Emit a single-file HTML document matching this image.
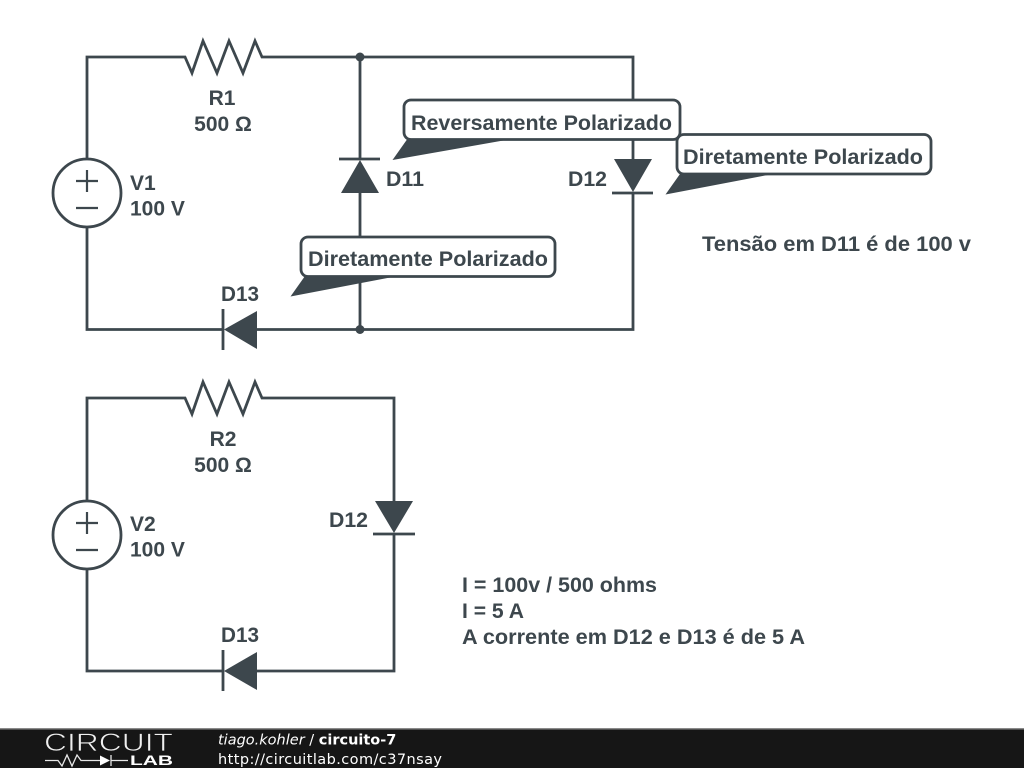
<!DOCTYPE html>
<html>
<head>
<meta charset="utf-8">
<style>
html,body{margin:0;padding:0;background:#fff;width:1024px;height:768px;overflow:hidden}
svg{display:block;filter:blur(.35px)}
text{font-family:"Liberation Sans",Arial,sans-serif;font-weight:bold;font-size:21px;fill:#3d474d}
.f{font-family:"DejaVu Sans",sans-serif;font-size:14.5px;font-weight:normal;fill:#fff}
</style>
</head>
<body>
<svg width="1024" height="768" viewBox="0 0 1024 768" xmlns="http://www.w3.org/2000/svg">
<rect width="1024" height="768" fill="#fff"/>

<g fill="none" stroke="#3d474d" stroke-width="2.800">
  <path d="M87 159V57H185L192 73L203 41L217 73L229 41L243 73L255 41L262 57H633V160M633 192V329.500H257M223 329.500H87V227"/>
  <circle cx="87" cy="193" r="34"/>
  <path d="M360 57V160M360 192V329"/>
  <path d="M339 159H380M612 193H653M223 309V350"/>

  <path d="M87 500V398H185L192 414L203 382L217 414L229 382L243 414L255 382L262 398H394V502M394 533V671H257M223 671H87V569"/>
  <circle cx="87" cy="535" r="34"/>
  <path d="M373 534H415M223 650V691"/>
</g>
<g fill="none" stroke="#3d474d" stroke-width="2.200">
  <path d="M76 181H98M87 170V192M76 208H98"/>
  <path d="M76 523H98M87 512V534M76 550H98"/>
</g>

<g fill="#3d474d">
  <circle cx="360" cy="57" r="4.500"/>
  <circle cx="360" cy="329.500" r="4.500"/>
  <path d="M360 160L379 193H341Z"/>
  <path d="M633 192L614 159H652Z"/>
  <path d="M224 329.500L257 311V349Z"/>
  <path d="M394 533L375 501H413Z"/>
  <path d="M224 671L257 652V690Z"/>
</g>

<g stroke="#3d474d" stroke-width="2.800">
  <rect x="301" y="237" width="254" height="39.500" rx="7" fill="#fff"/>
  <rect x="404" y="100" width="276" height="39.500" rx="7" fill="#fff"/>
  <rect x="677" y="134.500" width="254" height="39.500" rx="7" fill="#fff"/>
</g>
<g fill="#3d474d">
  <path d="M305 276H398L290.500 296.500Z"/>
  <path d="M407 139.500H509L392.500 160Z"/>
  <path d="M680 174H773L665.500 194.500Z"/>
</g>

<text x="222" y="105" text-anchor="middle">R1</text>
<text x="223" y="131" text-anchor="middle">500 Ω</text>
<text x="130" y="190">V1</text>
<text x="130" y="215.500">100 V</text>
<text x="386" y="186" textLength="38" lengthAdjust="spacingAndGlyphs">D11</text>
<text x="568" y="186" textLength="39" lengthAdjust="spacingAndGlyphs">D12</text>
<text x="221" y="301" textLength="38" lengthAdjust="spacingAndGlyphs">D13</text>
<text x="411" y="130" textLength="261" lengthAdjust="spacingAndGlyphs">Reversamente Polarizado</text>
<text x="308" y="266" textLength="240" lengthAdjust="spacingAndGlyphs">Diretamente Polarizado</text>
<text x="683" y="164" textLength="240" lengthAdjust="spacingAndGlyphs">Diretamente Polarizado</text>
<text x="702" y="251" textLength="269" lengthAdjust="spacingAndGlyphs">Tensão em D11 é de 100 v</text>

<text x="223" y="446" text-anchor="middle">R2</text>
<text x="223" y="472" text-anchor="middle">500 Ω</text>
<text x="130" y="531">V2</text>
<text x="130" y="556.500">100 V</text>
<text x="329" y="527" textLength="39" lengthAdjust="spacingAndGlyphs">D12</text>
<text x="221" y="642" textLength="38" lengthAdjust="spacingAndGlyphs">D13</text>
<text x="462" y="592" textLength="195" lengthAdjust="spacingAndGlyphs">I = 100v / 500 ohms</text>
<text x="462" y="618" textLength="62" lengthAdjust="spacingAndGlyphs">I = 5 A</text>
<text x="462" y="644" textLength="343" lengthAdjust="spacingAndGlyphs">A corrente em D12 e D13 é de 5 A</text>

<rect x="0" y="729" width="1024" height="39" fill="#161616"/>
<rect x="0" y="728" width="1024" height="1.500" fill="#8a8a8a"/>
<text x="44" y="751" textLength="129" lengthAdjust="spacingAndGlyphs" style="font-size:25px;font-weight:normal;fill:#f0f0f0;stroke:#161616;stroke-width:.7">CIRCUIT</text>
<path d="M45 760.500H58L62 766L67 755L72 766L77 755L81 760.500H100M111 755V766M111 760.500H128" fill="none" stroke="#e8e8e8" stroke-width="1.300"/>
<path d="M100 755.500L110 760.500L100 765.500Z" fill="#fff"/>
<text x="130" y="765" textLength="43" lengthAdjust="spacingAndGlyphs" style="font-size:14px;font-weight:bold;fill:#fff">LAB</text>

<text class="f" x="218" y="744.500"><tspan font-style="italic">tiago.kohler</tspan> / <tspan font-weight="bold">circuito-7</tspan></text>
<text class="f" x="218" y="764" textLength="224" lengthAdjust="spacing">http://circuitlab.com/c37nsay</text>
</svg>
</body>
</html>
